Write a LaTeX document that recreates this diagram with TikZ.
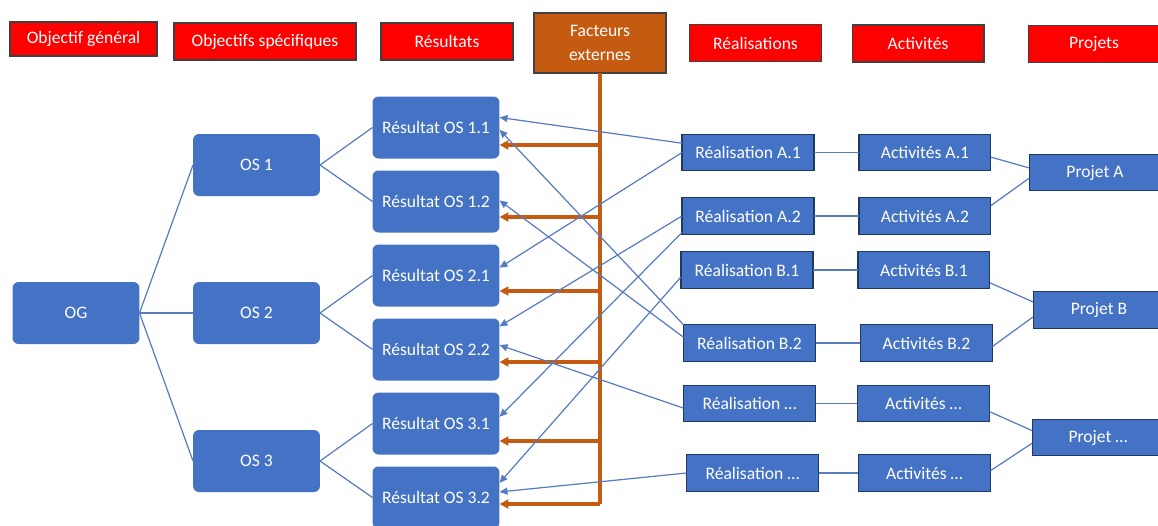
\documentclass[tikz,border=0pt]{standalone}
\usepackage{fontspec}
\setmainfont{Carlito}
\usepackage{xcolor}
\usepackage{tikz}
\usetikzlibrary{arrows.meta, positioning}
\definecolor{headcolor}{RGB}{255,0,0}
\definecolor{extcolor}{RGB}{197,90,17}
\definecolor{nodecolor}{RGB}{68,114,196}
\definecolor{bordercolor}{RGB}{32,56,100}
\definecolor{linkcolor}{RGB}{88,124,192}

\begin{document}
\begin{tikzpicture}[
    x=0.02cm, y=-0.02cm,
    every node/.style={font=\fontsize{10}{13.5}\selectfont, text=white, inner sep=0pt, outer sep=0pt},
    head/.style={draw=black!75, line width=0.6pt, fill=headcolor, minimum width=2.64cm, minimum height=0.74cm, align=center},
    goal/.style={fill=nodecolor, rounded corners=1.2mm, minimum width=2.54cm, minimum height=1.24cm},
    item/.style={draw=bordercolor, line width=0.6pt, fill=nodecolor, minimum width=2.64cm, minimum height=0.73cm},
    link/.style={draw=linkcolor, line width=0.7pt},
    arrow/.style={link, -{Triangle[length=1.6mm, width=1.4mm]}},
    ext/.style={draw=extcolor, line width=1.8pt},
    extarrow/.style={ext, -{Triangle[length=1.8mm, width=1.8mm]}}
]
    \useasboundingbox (0,0) rectangle (1158,525);

    \node[head, minimum width=2.94cm, minimum height=0.68cm] (hog) at (83.5,39) {Objectif général};
    \node[head, minimum width=3.64cm] (hos) at (265,41.5) {Objectifs spécifiques};
    \node[head] (hres) at (447,41.5) {Résultats};
    \node[head, fill=extcolor, minimum height=1.2cm] (hfe) at (600,43) {Facteurs\\externes};
    \node[head] (hreal) at (755.5,43) {Réalisations};
    \node[head] (hact) at (918,43.5) {Activités};
    \node[head] (hproj) at (1094,44) {Projets};

    \node[goal] (og) at (76,313) {OG};
    \node[goal] (os1) at (256.5,165) {OS 1};
    \node[goal] (os2) at (256.5,313) {OS 2};
    \node[goal] (os3) at (256.5,461) {OS 3};

    \node[goal] (r11) at (436,127.5) {Résultat OS 1.1};
    \node[goal] (r12) at (436,201.5) {Résultat OS 1.2};
    \node[goal] (r21) at (436,275.5) {Résultat OS 2.1};
    \node[goal] (r22) at (436,349.5) {Résultat OS 2.2};
    \node[goal] (r31) at (436,423.5) {Résultat OS 3.1};
    \node[goal] (r32) at (436,497.5) {Résultat OS 3.2};

    \node[item] (ra1) at (748,152.5) {Réalisation A.1};
    \node[item] (ra2) at (748,216) {Réalisation A.2};
    \node[item] (rb1) at (747,270) {Réalisation B.1};
    \node[item] (rb2) at (749.5,343) {Réalisation B.2};
    \node[item] (rx1) at (749.5,403.5) {Réalisation \dots};
    \node[item] (rx2) at (752.5,473) {Réalisation \dots};

    \node[item, right=0.9cm of ra1] (aa1) {Activités A.1};
    \node[item, right=0.9cm of ra2] (aa2) {Activités A.2};
    \node[item, right=0.9cm of rb1] (ab1) {Activités B.1};
    \node[item, right=0.9cm of rb2] (ab2) {Activités B.2};
    \node[item, right=0.84cm of rx1] (ax1) {Activités \dots};
    \node[item, right=0.8cm of rx2] (ax2) {Activités \dots};

    \node[item] (pa) at (1095,172.5) {Projet A};
    \node[item] (pb) at (1099,310) {Projet B};
    \node[item] (px) at (1098,437.5) {Projet \dots};

    \draw[link] (og.east) -- (os1.west);
    \draw[link] (og.east) -- (os2.west);
    \draw[link] (og.east) -- (os3.west);
    \draw[link] (os1.east) -- (r11.west);
    \draw[link] (os1.east) -- (r12.west);
    \draw[link] (os2.east) -- (r21.west);
    \draw[link] (os2.east) -- (r22.west);
    \draw[link] (os3.east) -- (r31.west);
    \draw[link] (os3.east) -- (r32.west);

    \coordinate (fe1) at (600,145);
    \coordinate (fe2) at (600,217);
    \coordinate (fe3) at (600,291);
    \coordinate (fe4) at (600,362);
    \coordinate (fe5) at (600,441);
    \coordinate (fe6) at (600,504);
    \draw[ext] (hfe.south) -- (fe6);
    \draw[extarrow] (fe1) -- (fe1 -| r11.east);
    \draw[extarrow] (fe2) -- (fe2 -| r12.east);
    \draw[extarrow] (fe3) -- (fe3 -| r21.east);
    \draw[extarrow] (fe4) -- (fe4 -| r22.east);
    \draw[extarrow] (fe5) -- (fe5 -| r31.east);
    \draw[extarrow] (fe6) -- (fe6 -| r32.east);

    \draw[arrow] (ra1.172) -- (r11.9);
    \draw[arrow] (ra1.west) -- (r21.7);
    \draw[arrow] (ra2.west) -- (r22.20);
    \draw[arrow] (ra2.194) -- (r31.6);
    \draw[arrow] (rb1.186) -- (r32.13);
    \draw[arrow] (rb2.north west) -- (r11.-2);
    \draw[arrow] (rb2.175) -- (r12.1);
    \draw[arrow] (rx1.184) -- (r22.4);
    \draw[arrow] (rx2.west) -- (r32.5);

    \draw[link] (ra1) -- (aa1);
    \draw[link] (ra2) -- (aa2);
    \draw[link] (rb1) -- (ab1);
    \draw[link] (rb2) -- (ab2);
    \draw[link] (rx1) -- (ax1);
    \draw[link] (rx2) -- (ax2);

    \draw[link] (aa1.-4) -- (pa.176);
    \draw[link] (aa2.9) -- (pa.185);
    \draw[link] (ab1.-11) -- (pb.173);
    \draw[link] (ab2.-3) -- (pb.186);
    \draw[link] (ax1.-7) -- (px.174);
    \draw[link] (ax2.2) -- (px.185);
\end{tikzpicture}
\end{document}
